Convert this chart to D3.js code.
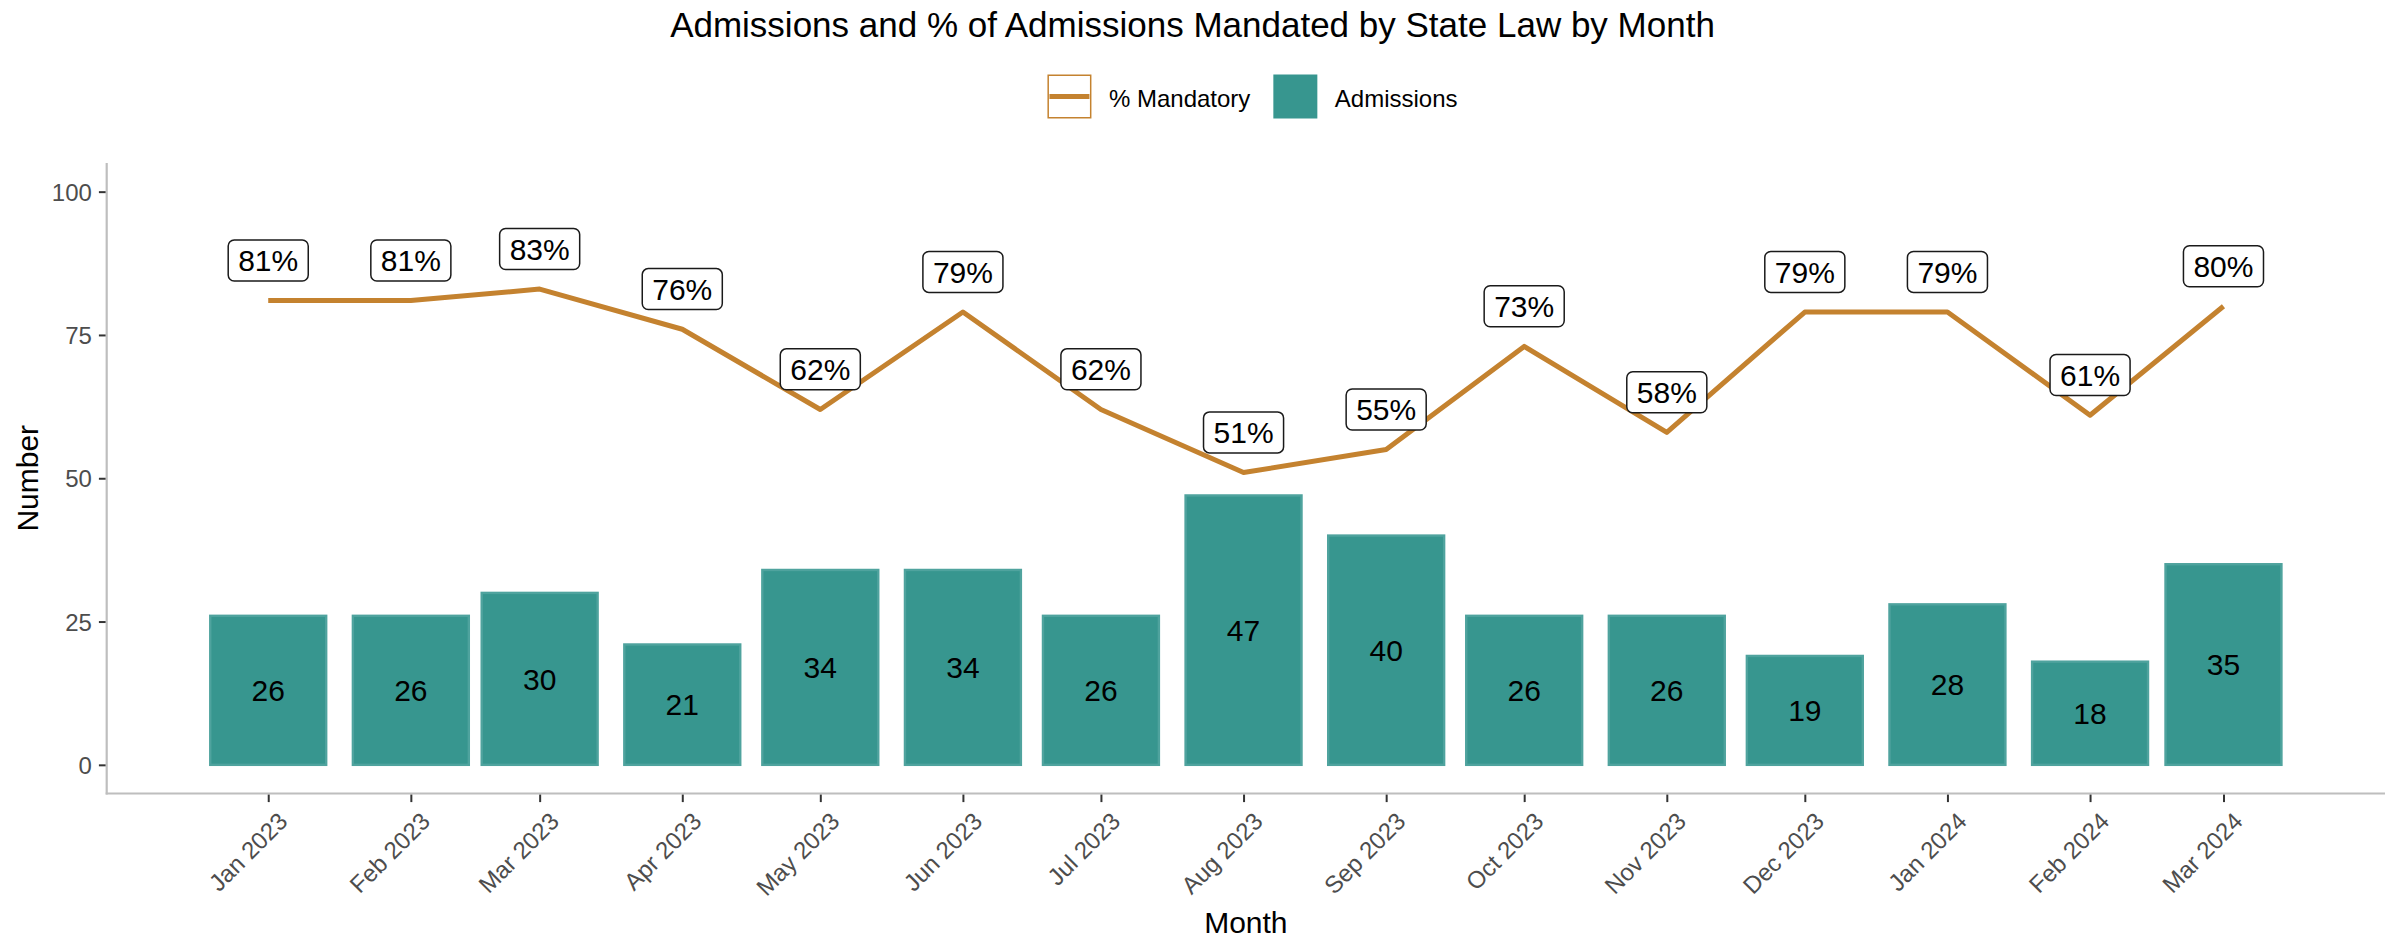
<!DOCTYPE html>
<html>
<head>
<meta charset="utf-8">
<script src="https://cdn.jsdelivr.net/npm/d3@7"></script>
<style>
  html, body { margin: 0; padding: 0; background: #fff; }
  svg { display: block; font-family: "Liberation Sans", Arial, sans-serif; }
</style>
</head>
<body>
<svg id="chart" width="2385" height="940"></svg>
<script>
// ---- data ----
const months = ["Jan 2023","Feb 2023","Mar 2023","Apr 2023","May 2023","Jun 2023","Jul 2023",
  "Aug 2023","Sep 2023","Oct 2023","Nov 2023","Dec 2023","Jan 2024","Feb 2024","Mar 2024"];
const admissions = [26, 26, 30, 21, 34, 34, 26, 47, 40, 26, 26, 19, 28, 18, 35];
const pctMandatory = [81, 81, 83, 76, 62, 79, 62, 51, 55, 73, 58, 79, 79, 61, 80];
const yTicks = [0, 25, 50, 75, 100];
const titleText = "Admissions and % of Admissions Mandated by State Law by Month";
const legendLabels = ["% Mandatory", "Admissions"];

// ---- styles ----
const W = 2385, H = 940;
const panel = { left: 106.7, right: 2385, top: 163, bottom: 793.5 };
const teal = "#37968F", tealEdge = "#4FA39E", orange = "#C4822F";
const grayText = "#4D4D4D";

const parse = d3.utcParse("%b %Y");
const dates = months.map(parse);

// bar width = 0.9 * data resolution (ggplot-like)
let res = Infinity;
for (let i = 1; i < dates.length; i++) res = Math.min(res, dates[i] - dates[i - 1]);
const half = 0.45 * res;
const lo = +dates[0] - half, hi = +dates[dates.length - 1] + half;
const pad = 0.05 * (hi - lo);

const x = d3.scaleUtc().domain([new Date(lo - pad), new Date(hi + pad)]).range([panel.left, panel.right]);
const y = d3.scaleLinear().domain([-5, 105]).range([panel.bottom, panel.top]);

const svg = d3.select("#chart");

// title
svg.append("text").attr("x", W / 2).attr("y", 36.5).attr("text-anchor", "middle")
  .attr("font-size", 35).attr("fill", "#000").text(titleText);

// legend
const leg = svg.append("g");
const keyS = 44;
let lx = 0;
legendLabels.forEach((lab, i) => {
  const g = leg.append("g").attr("transform", `translate(${lx},0)`);
  if (i === 0) {
    g.append("rect").attr("x", 0.75).attr("y", 0.75).attr("width", keyS - 1.5).attr("height", keyS - 1.5)
      .attr("fill", "#fff").attr("stroke", orange).attr("stroke-width", 1.5);
    g.append("line").attr("x1", 2).attr("x2", keyS - 2).attr("y1", keyS / 2).attr("y2", keyS / 2)
      .attr("stroke", orange).attr("stroke-width", 5);
  } else {
    g.append("rect").attr("width", keyS).attr("height", keyS).attr("fill", teal);
  }
  const t = g.append("text").attr("x", keyS + 17.5).attr("y", 32.2).attr("font-size", 24)
    .attr("fill", "#000").text(lab);
  const tw = t.node().getComputedTextLength();
  lx += keyS + 17.5 + tw + 23;
});
const legW = lx - 23;
leg.attr("transform", `translate(${1252.5 - legW / 2},74.5)`);

// bars
const bw = x(new Date(+dates[0] + half)) - x(new Date(+dates[0] - half));
svg.append("g").selectAll("rect").data(admissions).join("rect")
  .attr("x", (d, i) => x(dates[i]) - bw / 2)
  .attr("y", d => y(d))
  .attr("width", bw)
  .attr("height", d => y(0) - y(d))
  .attr("fill", teal).attr("stroke", tealEdge).attr("stroke-width", 2.4);

// bar labels
svg.append("g").selectAll("text").data(admissions).join("text")
  .attr("x", (d, i) => x(dates[i]))
  .attr("y", d => y(d / 2) + 10.7)
  .attr("text-anchor", "middle").attr("font-size", 30).attr("fill", "#000")
  .text(d => d);

// line
const line = d3.line().x((d, i) => x(dates[i])).y(d => y(d));
svg.append("path").datum(pctMandatory).attr("d", line)
  .attr("fill", "none").attr("stroke", orange).attr("stroke-width", 5)
  .attr("stroke-linejoin", "round");

// percent labels (nudged up)
const lg = svg.append("g");
pctMandatory.forEach((p, i) => {
  const cx = x(dates[i]), cy = y(p + 7);
  const g = lg.append("g");
  const t = g.append("text").attr("x", cx).attr("y", cy + 10.7).attr("text-anchor", "middle")
    .attr("font-size", 30).attr("fill", "#000").text(p + "%");
  const tw = t.node().getComputedTextLength();
  const bwid = tw + 20, bh = 41;
  g.insert("rect", "text").attr("x", cx - bwid / 2).attr("y", cy - bh / 2)
    .attr("width", bwid).attr("height", bh).attr("rx", 6).attr("ry", 6)
    .attr("fill", "#fff").attr("stroke", "#1a1a1a").attr("stroke-width", 1.5);
});

// axes
const axisColor = "#BEBEBE";
svg.append("line").attr("x1", panel.left).attr("x2", panel.left).attr("y1", panel.top).attr("y2", panel.bottom + 1)
  .attr("stroke", axisColor).attr("stroke-width", 2.2);
svg.append("line").attr("x1", panel.left - 1).attr("x2", panel.right).attr("y1", panel.bottom).attr("y2", panel.bottom)
  .attr("stroke", axisColor).attr("stroke-width", 2.2);

const yAxis = d3.axisLeft(y).tickValues(yTicks).tickSize(6.7).tickPadding(7);
const ya = svg.append("g").attr("transform", `translate(${panel.left - 1.1},0)`).call(yAxis);
ya.select(".domain").remove();
ya.selectAll(".tick line").attr("stroke", "#333").attr("stroke-width", 2);
ya.selectAll(".tick text").attr("font-size", 24).attr("fill", grayText)
  .attr("font-family", "Liberation Sans, Arial, sans-serif").attr("dy", "0.36em");

const xAxis = d3.axisBottom(x).tickValues(dates).tickSize(7.5).tickFormat((d, i) => months[i]);
const xa = svg.append("g").attr("transform", `translate(0,${panel.bottom + 1.1})`).call(xAxis);
xa.select(".domain").remove();
xa.selectAll(".tick line").attr("stroke", "#333").attr("stroke-width", 2);
xa.selectAll(".tick text").attr("font-size", 24).attr("fill", grayText)
  .attr("font-family", "Liberation Sans, Arial, sans-serif")
  .attr("text-anchor", "end").attr("y", 0).attr("dy", "0.72em")
  .attr("transform", "translate(8,16) rotate(-45)");

// axis titles
svg.append("text").attr("x", (panel.left + panel.right) / 2).attr("y", 933.3)
  .attr("text-anchor", "middle").attr("font-size", 30).attr("fill", "#000").text("Month");
svg.append("text").attr("transform", `translate(38,${(panel.top + panel.bottom) / 2}) rotate(-90)`)
  .attr("text-anchor", "middle").attr("font-size", 30).attr("fill", "#000").text("Number");
</script>
</body>
</html>
